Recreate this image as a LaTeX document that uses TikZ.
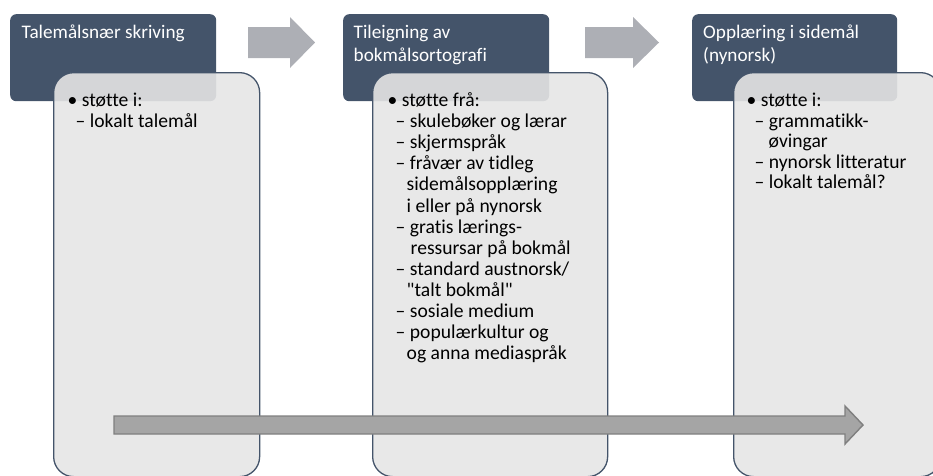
\documentclass[tikz,border=0pt]{standalone}
\usepackage{fontspec}
\setmainfont{Carlito}[Ligatures=NoCommon]

\definecolor{headfill}{HTML}{44546A}
\definecolor{panelfill}{HTML}{E5E5E5}
\definecolor{stepgray}{HTML}{ADAFB5}
\definecolor{timefill}{HTML}{A5A5A5}
\definecolor{timeedge}{HTML}{7F7F7F}

% a block of lines whose reference point is the first baseline
\newcommand{\linestack}[2]{\vtop{\baselineskip=#1\lineskiplimit=-30pt\lineskip=0pt\halign{##\hfil\cr#2\crcr}}}
% sub-item with an en dash, and an indented continuation line
\newcommand{\subitm}{\hspace*{8pt}–\ }
\newcommand{\contln}[1][19pt]{\hspace*{#1}}

\begin{document}
\begin{tikzpicture}[x=1pt,y=-1pt,
  header/.style={fill=headfill, draw=none, rounded corners=6pt, inner sep=0pt,
                 anchor=north west, minimum height=87pt},
  panel/.style={fill=panelfill, fill opacity=0.9, draw=headfill, line width=1.3pt,
                rounded corners=20pt, inner sep=0pt, anchor=north west, minimum height=404pt},
  headtext/.style={text=white, font=\fontsize{19.2}{23.5}\selectfont, inner sep=0pt, anchor=base west},
  bodytext/.style={text=black, font=\fontsize{19.6}{21}\selectfont, inner sep=0pt, anchor=base west},
  steparrow/.style={fill=stepgray, draw=none},
  timearrow/.style={fill=timefill, draw=timeedge, line width=1.4pt, line join=miter}
]
\useasboundingbox (0,0) rectangle (933,475);

% stage headers
\node[header, minimum width=206pt] (h1) at (10,14) {};
\node[header, minimum width=206pt] (h2) at (343,14) {};
\node[header, minimum width=205pt] (h3) at (692,14) {};

\node[headtext] (h1t) at (21.5,38) {\linestack{23.5pt}{Talemålsnær skriving}};
\node[headtext] (h2t) at (353.5,38) {\linestack{23.5pt}{Tileigning av\cr bokmålsortografi}};
\node[headtext] (h3t) at (703,38) {\linestack{23.5pt}{Opplæring i sidemål\cr (nynorsk)}};

% arrows between the stages
\fill[steparrow] (248,27) -- (290,27) -- (290,17) -- (315,42.5) -- (290,68) -- (290,58) -- (248,58) -- cycle;
\fill[steparrow] (585,27) -- (633,27) -- (633,17) -- (659,42.5) -- (633,68) -- (633,58) -- (585,58) -- cycle;

% detail panels
\node[panel, minimum width=206pt] (p1) at (53,72) {};
\node[panel, minimum width=235pt] (p2) at (372,72) {};
\node[panel, minimum width=207pt] (p3) at (733,72) {};

\node[bodytext] (b1) at (67.5,106.5) {\linestack{21pt}{%
  • støtte i:\cr
  \subitm lokalt talemål}};

\node[bodytext] (b2) at (387.5,106.5) {\linestack{21.1pt}{%
  • støtte frå:\cr
  \subitm skulebøker og lærar\cr
  \subitm skjermspråk\cr
  \subitm fråvær av tidleg\cr
  \contln sidemålsopplæring\cr
  \contln i eller på nynorsk\cr
  \subitm gratis lærings-\cr
  \contln[23pt]ressursar på bokmål\cr
  \subitm standard austnorsk/\cr
  \contln \textquotedbl talt bokmål\textquotedbl\cr
  \subitm sosiale medium\cr
  \subitm populærkultur og\cr
  \contln og anna mediaspråk}};

\node[bodytext] (b3) at (746.5,106.5) {\linestack{20.6pt}{%
  • støtte i:\cr
  \subitm grammatikk-\cr
  \contln[22pt]øvingar\cr
  \subitm nynorsk litteratur\cr
  \subitm lokalt talemål?}};

% time line across all stages
\draw[timearrow] (114,416) -- (845,416) -- (845,406) -- (863,425) -- (845,444) -- (845,434) -- (114,434) -- cycle;
\end{tikzpicture}
\end{document}
